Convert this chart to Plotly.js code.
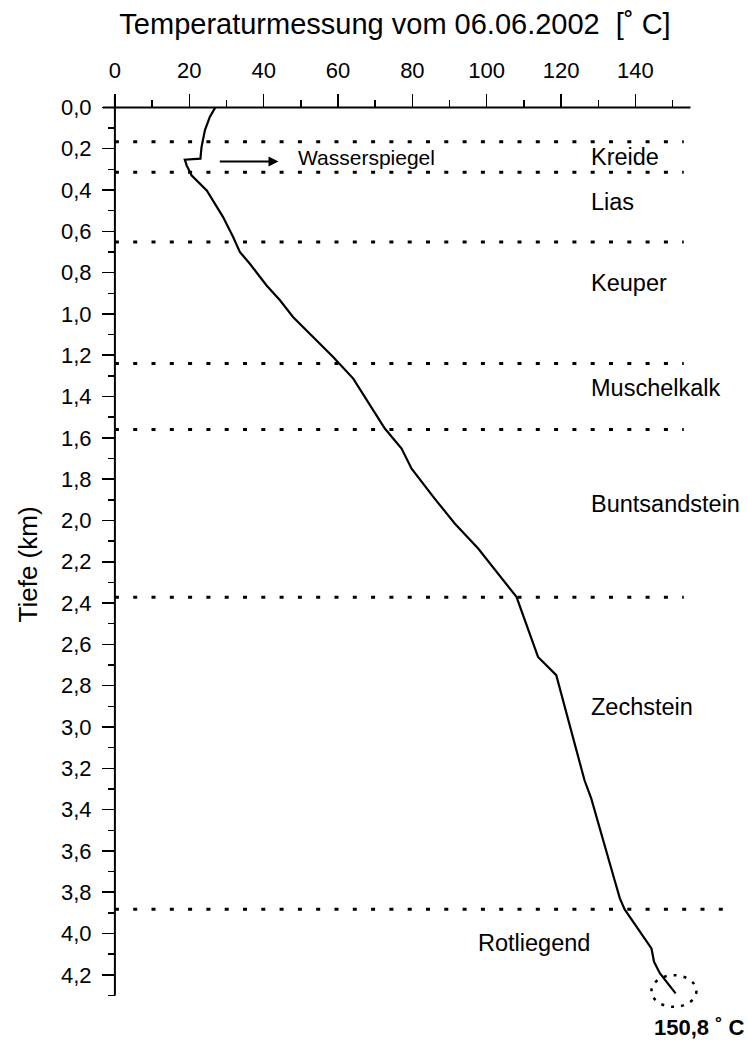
<!DOCTYPE html>
<html>
<head>
<meta charset="utf-8">
<script src="https://cdn.plot.ly/plotly-3.0.1.min.js"></script>
<style>html,body{margin:0;padding:0;background:#fff;}#chart{width:748px;height:1046px;}</style>
</head>
<body>
<div id="chart"></div>
<script>
// ---- data ----
const depthKm = [0.000, 0.047, 0.111, 0.192, 0.248, 0.253, 0.281, 0.329, 0.402, 0.466, 0.531, 0.628, 0.700, 0.757, 0.862, 0.934, 1.015, 1.112, 1.209, 1.313, 1.418, 1.555, 1.652, 1.709, 1.749, 1.894, 2.015, 2.136, 2.322, 2.370, 2.661, 2.749, 3.258, 3.346, 3.742, 3.830, 3.883, 4.072, 4.137, 4.193, 4.290];
const tempC   = [27.0, 25.5, 24.2, 23.3, 23.0, 18.8, 19.3, 20.6, 24.7, 26.9, 29.1, 31.8, 33.6, 36.3, 40.8, 44.4, 47.9, 53.3, 58.7, 64.1, 67.7, 72.6, 77.1, 78.8, 79.8, 86.0, 91.4, 97.7, 105.7, 108.0, 113.8, 118.7, 126.3, 128.1, 134.4, 135.8, 137.1, 144.3, 145.0, 146.6, 150.8];

const boundaryKm = [0.166, 0.314, 0.652, 1.240, 1.560, 2.372, 3.882];
const formations = ["Kreide", "Lias", "Keuper", "Muschelkalk", "Buntsandstein", "Zechstein", "Rotliegend"];
const formationMidKm = [0.240, 0.458, 0.852, 1.360, 1.920, 2.904, 4.046];

const waterLevelKm = 0.262;
const waterLabel = "Wasserspiegel";

const xTickVals = [0, 20, 40, 60, 80, 100, 120, 140];
const xTickText = ["0", "20", "40", "60", "80", "100", "120", "140"];
const xMinorVals = [10, 30, 50, 70, 90, 110, 130, 150];
const yTickVals = [0, 0.2, 0.4, 0.6, 0.8, 1.0, 1.2, 1.4, 1.6, 1.8, 2.0, 2.2, 2.4, 2.6, 2.8, 3.0, 3.2, 3.4, 3.6, 3.8, 4.0, 4.2];
const yTickText = ["0,0", "0,2", "0,4", "0,6", "0,8", "1,0", "1,2", "1,4", "1,6", "1,8", "2,0", "2,2", "2,4", "2,6", "2,8", "3,0", "3,2", "3,4", "3,6", "3,8", "4,0", "4,2"];
const yMinorVals = [0.1, 0.3, 0.5, 0.7, 0.9, 1.1, 1.3, 1.5, 1.7, 1.9, 2.1, 2.3, 2.5, 2.7, 2.9, 3.1, 3.3, 3.5, 3.7, 3.9, 4.1, 4.3];

// ---- layout constants ----
const FONT = "Liberation Sans, Arial, Helvetica, sans-serif";
const xRange = [-3.2, 170];
const yRange = [4.38, -0.06];
const xAxisEnd = 154.8, yAxisEnd = 4.30;
const lineEndT = [153, 153, 153, 153, 153, 153, 167];
const labelT = [127.5, 127.5, 127.5, 127.5, 127.5, 127.5, 97.1];

const traces = [];
boundaryKm.forEach((d, i) => {
  traces.push({
    x: [0, lineEndT[i]], y: [d, d], mode: "lines", type: "scatter",
    line: {color: "#000", width: 3, dash: "4px,14.3px"},
    hoverinfo: "skip", showlegend: false
  });
});
traces.push({
  x: tempC, y: depthKm, mode: "lines", type: "scatter",
  line: {color: "#000", width: 2.2}, showlegend: false
});

const lastT = tempC[tempC.length - 1];
const lastD = depthKm[depthKm.length - 1];

const xPos = (0 - yRange[0]) / (yRange[1] - yRange[0]);
const yPos = (0 - xRange[0]) / (xRange[1] - xRange[0]);

const annotations = formations.map((f, i) => ({
  x: labelT[i], y: formationMidKm[i], xref: "x", yref: "y",
  text: f, showarrow: false, xanchor: "left", yanchor: "middle",
  font: {family: FONT, size: 23.5, color: "#000"}
}));
annotations.push({
  x: 44.0, y: waterLevelKm, ax: 27.8, ay: waterLevelKm, xref: "x", yref: "y", axref: "x", ayref: "y",
  text: "", showarrow: true, arrowhead: 2, arrowsize: 1, arrowwidth: 2, arrowcolor: "#000"
});
annotations.push({
  x: 48.8, y: waterLevelKm - 0.017, xref: "x", yref: "y", text: waterLabel, showarrow: false,
  xanchor: "left", yanchor: "middle", font: {family: FONT, size: 21, color: "#000"}
});
annotations.push({
  x: 1, y: -0.0174, xref: "paper", yref: "paper",
  text: "<b>" + lastT.toFixed(1).replace(".", ",") + " ˚ C</b>", showarrow: false,
  xanchor: "right", yanchor: "middle", font: {family: FONT, size: 22, color: "#000"}
});
annotations.push({
  x: -0.1165, y: 0.488, xref: "paper", yref: "paper", text: "Tiefe (km)", textangle: -90,
  showarrow: false, xanchor: "center", yanchor: "middle",
  font: {family: FONT, size: 26, color: "#000"}
});

const shapes = [
  {type: "line", xref: "x", yref: "y", x0: xRange[0], x1: xAxisEnd, y0: 0, y1: 0, line: {color: "#000", width: 2}},
  {type: "line", xref: "x", yref: "y", x0: 0, x1: 0, y0: yRange[1], y1: yAxisEnd, line: {color: "#000", width: 2}},
  {type: "circle", xref: "x", yref: "y", x0: lastT - 6.5, x1: lastT + 5.6, y0: lastD - 0.088, y1: lastD + 0.065,
   line: {color: "#000", width: 2.5, dash: "3px,7px"}}
];

const layout = {
  width: 748, height: 1046,
  margin: {l: 103, r: 1, t: 95, b: 34, pad: 0},
  paper_bgcolor: "#fff", plot_bgcolor: "#fff",
  showlegend: false,
  title: {
    text: "Temperaturmessung vom 06.06.2002 \u00a0[˚ C]",
    x: 395 / 748, xref: "container", xanchor: "center",
    y: 1 - 24 / 1046, yref: "container", yanchor: "middle",
    font: {family: FONT, size: 29, color: "#000"}
  },
  xaxis: {
    range: xRange, autorange: false, side: "top", anchor: "free", position: xPos,
    tickmode: "array", tickvals: xTickVals, ticktext: xTickText,
    ticks: "outside", ticklen: 13, tickwidth: 1.5, tickcolor: "#000",
    ticklabelstandoff: 8,
    minor: {tickmode: "array", tickvals: xMinorVals, ticks: "outside", ticklen: 7, tickwidth: 1.5, tickcolor: "#000", showgrid: false},
    showline: false, showgrid: false, zeroline: false,
    tickfont: {family: FONT, size: 22, color: "#000"}
  },
  yaxis: {
    range: yRange, autorange: false, anchor: "free", position: yPos,
    tickmode: "array", tickvals: yTickVals, ticktext: yTickText,
    ticks: "outside", ticklen: 13, tickwidth: 1.5, tickcolor: "#000",
    ticklabelstandoff: 6,
    minor: {tickmode: "array", tickvals: yMinorVals, ticks: "outside", ticklen: 7, tickwidth: 1.5, tickcolor: "#000", showgrid: false},
    showline: false, showgrid: false, zeroline: false,
    tickfont: {family: FONT, size: 22, color: "#000"}
  },
  shapes: shapes,
  annotations: annotations
};

Plotly.newPlot("chart", traces, layout, {staticPlot: true, displayModeBar: false});
</script>
</body>
</html>
